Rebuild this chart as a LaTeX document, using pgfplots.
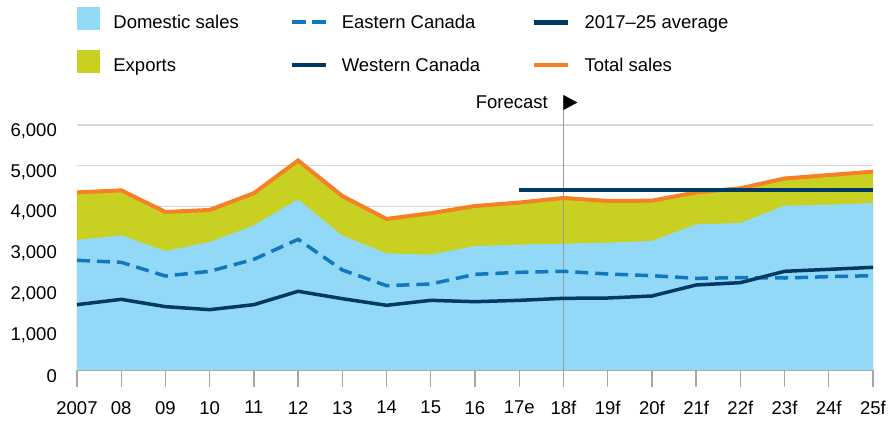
\documentclass[border=0pt]{standalone}
\usepackage{fontspec}
\setmainfont{Liberation Sans}
\usepackage{pgfplots}
\pgfplotsset{compat=1.18}
\definecolor{dom}{HTML}{92D8F7}
\definecolor{exp}{HTML}{C8D022}
\definecolor{tot}{HTML}{F58025}
\definecolor{east}{HTML}{1278BE}
\definecolor{navy}{HTML}{003A64}
\definecolor{gridgray}{HTML}{D6D6D6}
\definecolor{axisgray}{HTML}{A6A6A6}
\definecolor{fcgray}{HTML}{9A9A9A}
\begin{document}
\fontsize{18.5}{22}\selectfont
\begin{tikzpicture}
\useasboundingbox (0,0) rectangle (892pt,421pt);
\begin{axis}[
  at={(77pt,51pt)}, anchor=south west,
  width=796pt, height=245pt, scale only axis,
  xmin=0, xmax=18, ymin=0, ymax=6000,
  clip=false,
  axis x line*=bottom, axis y line*=left,
  x axis line style={draw=axisgray, line width=2pt},
  y axis line style={draw=none},
  xtick={0,...,18},
  xticklabels={2007,08,09,10,11,12,13,14,15,16,17e,18f,19f,20f,21f,22f,23f,24f,25f},
  ytick={0,1000,...,6000},
  tick align=outside,
  major tick length=17pt,
  xtick style={draw=axisgray, line width=1.3pt},
  ytick style={draw=none},
  ymajorgrids, grid style={draw=gridgray, line width=1.3pt},
  /pgf/number format/assume math mode=true,
  /pgf/number format/1000 sep={,},
  scaled y ticks=false,
  tick label style={font=\fontsize{18.5}{22}\selectfont},
  xticklabel style={inner sep=0pt, anchor=north, yshift=-14pt},
  yticklabel style={inner sep=0pt, anchor=east, xshift=-3pt, yshift=-6pt},
  legend style={at={(axis description cs:0,1.483)}, anchor=north west,
    draw=none, fill=none, inner sep=0pt, outer sep=0pt, row sep=18pt,
    font=\fontsize{18.5}{22}\selectfont,
    /tikz/every odd column/.append style={column sep=14pt},
    /tikz/every even column/.append style={column sep=51.5pt},
    nodes={inner sep=0pt, anchor=base west}},
  legend columns=2, transpose legend,
  legend cell align=left,
]
% Exports area (stacked on top of domestic: filled under total)
\addplot[fill=exp, draw=none, forget plot] coordinates {
 (0,4350) (1,4400) (2,3870) (3,3920) (4,4330) (5,5130) (6,4260) (7,3700) (8,3840) (9,4017)
 (10,4100) (11,4213) (12,4140) (13,4147) (14,4350) (15,4450) (16,4690) (17,4775) (18,4857)} \closedcycle;
% Domestic sales area
\addplot[fill=dom, draw=none, forget plot] coordinates {
 (0,3184) (1,3298) (2,2914) (3,3135) (4,3543) (5,4180) (6,3290) (7,2857) (8,2824) (9,3037)
 (10,3069) (11,3094) (12,3118) (13,3159) (14,3567) (15,3600) (16,4024) (17,4049) (18,4090)} \closedcycle;
\draw[fcgray, line width=1.3pt] (axis cs:11,0) -- (axis cs:11,6735);
\fill[black] (axis cs:11,6735) -- ++(14pt,-7.5pt) -- ++(-14pt,-7.5pt) -- cycle;
\node[anchor=base east, inner sep=0pt] at ([xshift=-15.5pt,yshift=-13.3pt]axis cs:11,6735) {Forecast};
% Eastern Canada
\addplot[east, line width=3.5pt, dash pattern=on 13pt off 7pt, forget plot] coordinates {
 (0,2686) (1,2637) (2,2302) (3,2417) (4,2711) (5,3200) (6,2449) (7,2065) (8,2106) (9,2343)
 (10,2392) (11,2417) (12,2351) (13,2310) (14,2245) (15,2261) (16,2253) (17,2286) (18,2310)};
% Western Canada
\addplot[navy, line width=3.5pt, forget plot] coordinates {
 (0,1600) (1,1731) (2,1551) (3,1478) (4,1600) (5,1927) (6,1747) (7,1584) (8,1706) (9,1673)
 (10,1706) (11,1755) (12,1763) (13,1812) (14,2082) (15,2139) (16,2417) (17,2465) (18,2514)};
% Total sales
\addplot[tot, line width=4pt, forget plot] coordinates {
 (0,4350) (1,4400) (2,3870) (3,3920) (4,4330) (5,5130) (6,4260) (7,3700) (8,3840) (9,4017)
 (10,4100) (11,4213) (12,4140) (13,4147) (14,4350) (15,4450) (16,4690) (17,4775) (18,4857)};
% 2017-25 average
\addplot[navy, line width=4.7pt, forget plot] coordinates {(10,4410) (18,4410)};
% legend
\addlegendimage{legend image code/.code={\fill[dom] (0pt,0pt) rectangle (22pt,22pt);}}
\addlegendentry{Domestic sales}
\addlegendimage{legend image code/.code={\fill[exp] (0pt,0pt) rectangle (22pt,22pt);}}
\addlegendentry{Exports}
\addlegendimage{legend image code/.code={\draw[east, line width=3.5pt, dash pattern=on 14pt off 6pt] (0pt,6.65pt) -- (34pt,6.65pt);}}
\addlegendentry{Eastern Canada}
\addlegendimage{legend image code/.code={\draw[navy, line width=3.5pt] (0pt,6.65pt) -- (34pt,6.65pt);}}
\addlegendentry{Western Canada}
\addlegendimage{legend image code/.code={\draw[navy, line width=4.7pt] (0pt,6.65pt) -- (34pt,6.65pt);}}
\addlegendentry{2017--25 average}
\addlegendimage{legend image code/.code={\draw[tot, line width=3.5pt] (0pt,6.65pt) -- (34pt,6.65pt);}}
\addlegendentry{Total sales}
\end{axis}
\end{tikzpicture}
\end{document}
